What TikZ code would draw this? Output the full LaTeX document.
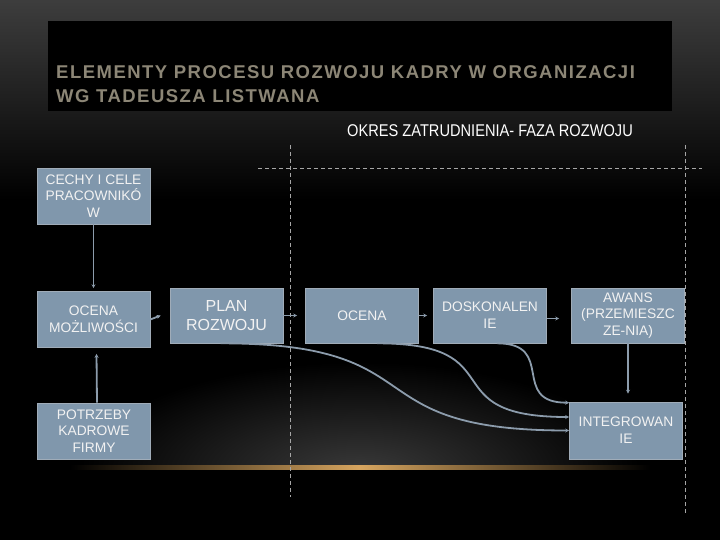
\documentclass[tikz,border=0pt]{standalone}
\usepackage{fontspec}
\setmainfont{Liberation Sans}
\newfontfamily\headfont[LetterSpace=8]{Liberation Sans}
\usetikzlibrary{arrows.meta}
\definecolor{boxfill}{RGB}{128,151,172}
\definecolor{boxline}{RGB}{160,172,184}
\definecolor{linkc}{RGB}{140,156,172}
\definecolor{titlec}{RGB}{140,134,118}
\definecolor{glowc}{RGB}{215,165,95}

\begin{document}
\begin{tikzpicture}[
  x=1pt, y=-1pt,
  stage/.style={rectangle, draw=boxline, line width=0.6pt, fill=boxfill, text=white!95!black,
    minimum width=113pt, minimum height=56pt, inner sep=0pt, align=center,
    font=\fontsize{13.8}{16.8}\selectfont},
  farr/.style={-{Stealth[length=4pt, width=4pt]}, line width=1.8pt, linkc},
  guide/.style={gray!70, line width=0.7pt, dash pattern=on 4pt off 3pt},
]
  \useasboundingbox (0,0) rectangle (720,540);

  % Background
  \fill[black] (0,0) rectangle (720,540);
  \shade[top color=black!76!white, bottom color=black] (0,0) rectangle (720,200);
  \begin{scope}
    \clip (0,300) rectangle (720,466);
    \shade[inner color=gray!45!black, outer color=black] (360,472) ellipse [x radius=280, y radius=110];
  \end{scope}
  \shade[left color=black, right color=black, middle color=glowc] (70,465) rectangle (650,469);

  % Title
  \fill[black] (48,21) rectangle (672,111);
  \node[anchor=base west, inner sep=0pt, text=titlec, font=\headfont\bfseries\fontsize{18.5}{22}\selectfont] (title1) at (56,78.5) {ELEMENTY PROCESU ROZWOJU KADRY W ORGANIZACJI};
  \node[anchor=base west, inner sep=0pt, text=titlec, font=\headfont\bfseries\fontsize{18.5}{22}\selectfont] (title2) at (56,102.5) {WG TADEUSZA LISTWANA};
  \node[anchor=base, inner sep=0pt, text=white, font=\fontsize{17}{18}\selectfont] (okres) at (490,137) {\scalebox{0.86}[1]{OKRES ZATRUDNIENIA- FAZA ROZWOJU}};

  % Phase guides
  \draw[guide] (290,145) -- (290,497);
  \draw[guide] (258,168) -- (702,168);
  \draw[guide] (685,145) -- (685,515);

  % Left column
  \node[stage] (cechy) at (93.5,196) {CECHY I CELE\\PRACOWNIKÓ\\W};
  \node[stage] (ocenam) at (93.5,319.5) {OCENA\\MOŻLIWOŚCI};
  \node[stage] (potrzeby) at (94,431) {POTRZEBY\\KADROWE\\FIRMY};

  % Development phase
  \node[stage, font=\fontsize{16}{19}\selectfont, minimum height=55pt] (plan) at (226.5,315.5) {PLAN\\ROZWOJU};
  \node[stage, minimum height=55pt] (ocena) at (362,315.5) {OCENA};
  \node[stage, minimum height=55pt] (dosk) at (490,315.5) {DOSKONALEN\\IE};
  \node[stage, minimum height=55pt] (awans) at (628,315.5) {AWANS\\(PRZEMIESZC\\ZE-NIA)};
  \node[stage, minimum height=57pt] (integ) at (626,430.5) {INTEGROWAN\\IE};

  % Straight links
  \draw[farr] (cechy.south) -- ([yshift=3pt]ocenam.north);
  \draw[farr] ([xshift=3pt]potrzeby.north) -- ([xshift=3pt, yshift=-6pt]ocenam.south);
  \draw[farr] (ocenam.east) -- ([xshift=-9pt]plan.west);
  \draw[farr] (plan.east) -- ([xshift=-8pt]ocena.west);
  \draw[farr] (ocena.east) -- ([xshift=-6pt]dosk.west);
  \draw[farr] ([yshift=-3pt]dosk.east) -- ([xshift=-12pt, yshift=-3pt]awans.west);
  \draw[farr] (awans.south) -- ([xshift=2pt, yshift=8pt]integ.north);

  % Curved links into integration
  \draw[farr] ([xshift=-6pt]plan.south) .. controls +(220,0) and +(-220,0) .. (integ.west);
  \draw[farr] ([xshift=15pt]ocena.south) .. controls +(140,0) and +(-140,0) .. ([yshift=13.5pt]integ.west);
  \draw[farr] ([xshift=7pt]dosk.south) .. controls +(60,0) and +(-60,0) .. ([yshift=-1pt]integ.north west);
\end{tikzpicture}
\end{document}
